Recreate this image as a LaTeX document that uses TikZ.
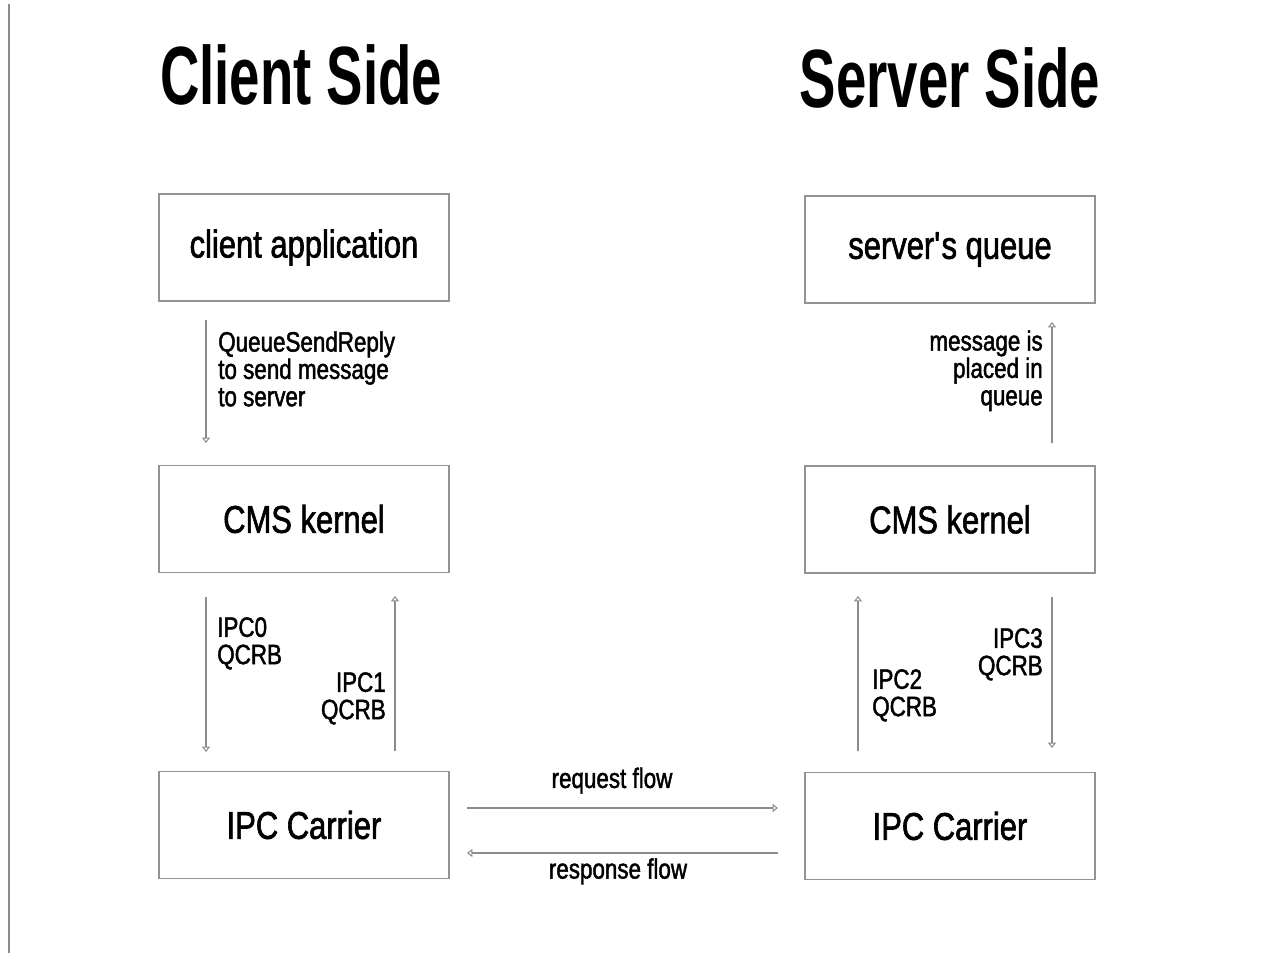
\documentclass[tikz,border=0pt]{standalone}
\usepackage{fontspec}
\setmainfont[FakeStretch=0.8, FakeBold=1.6]{Liberation Sans}
\newfontfamily\titlefont[FakeStretch=0.66]{Liberation Sans Bold}
\usetikzlibrary{arrows.meta}

\tikzset{
  box/.style={draw=gray!85, line width=1.1pt, minimum width=217.5pt, minimum height=80pt, inner sep=0pt, font=\fontsize{29}{30}\selectfont},
  flow/.style={draw=gray!90, line width=0.8pt, -{Triangle[open, length=4pt, width=6pt]}},
  lbl/.style={inner sep=0pt, font=\fontsize{21}{20.5}\selectfont, align=left},
  title/.style={inner sep=0pt, font=\fontsize{62}{62}\titlefont}
}

\begin{document}
\begin{tikzpicture}[x=0.75pt,y=0.75pt,yscale=-1,xscale=1]
%set diagram size as the reference
\useasboundingbox (0,0) rectangle (1274,953);

%left rule
\draw [gray!90, line width=1.2pt] (9,4) -- (9,953) ;

% Titles
\node [title] (tcli) at (301,75) {Client Side};
\node [title] (tsrv) at (950,78) {Server Side};

%Boxes client side
\node [box] (cliapp) at (304,247.5) {client application};
\node [box] (clicms) at (304,519) {CMS kernel};
\node [box] (cliipc) at (304,825) {IPC Carrier};
%Boxes server side
\node [box] (srvq) at (950,249.5) {server\textquotesingle s queue};
\node [box] (srvcms) at (950,519.5) {CMS kernel};
\node [box] (srvipc) at (950,826) {IPC Carrier};

%arrow ends
\coordinate (a1s) at (206,320) ; \coordinate (a1e) at (206,443) ;
\coordinate (a2s) at (1052,443) ; \coordinate (a2e) at (1052,322) ;
\coordinate (a3s) at (206,597) ; \coordinate (a3e) at (206,752) ;
\coordinate (a4s) at (395,751) ; \coordinate (a4e) at (395,596) ;
\coordinate (a5s) at (858,751) ; \coordinate (a5e) at (858,596) ;
\coordinate (a6s) at (1052,597) ; \coordinate (a6e) at (1052,748) ;
\coordinate (reqs) at (467,808) ; \coordinate (reqe) at (778,808) ;
\coordinate (ress) at (778,853) ; \coordinate (rese) at (467,853) ;

\draw [flow] (a1s) -- (a1e) ;
\draw [flow] (a2s) -- (a2e) ;
\draw [flow] (a3s) -- (a3e) ;
\draw [flow] (a4s) -- (a4e) ;
\draw [flow] (a5s) -- (a5e) ;
\draw [flow] (a6s) -- (a6e) ;
\draw [flow] (reqs) -- (reqe) ;
\draw [flow] (ress) -- (rese) ;

% Text Nodes
\node [lbl, anchor=north west] (lsend) at (218,331) {QueueSendReply\\to send message\\to server};
\node [lbl, anchor=north east, align=right] (lplace) at (1043,330) {message is\\placed in\\queue};
\node [lbl, anchor=north west] (lipc0) at (217,617) {IPC0\\QCRB};
\node [lbl, anchor=north east, align=right] (lipc1) at (386,672) {IPC1\\QCRB};
\node [lbl, anchor=north west] (lipc2) at (872,669) {IPC2\\QCRB};
\node [lbl, anchor=north east, align=right] (lipc3) at (1043,628) {IPC3\\QCRB};
\node [lbl, anchor=south] (lreq) at (612,794) {request flow};
\node [lbl, anchor=north] (lres) at (618,858) {response flow};

\end{tikzpicture}
\end{document}
